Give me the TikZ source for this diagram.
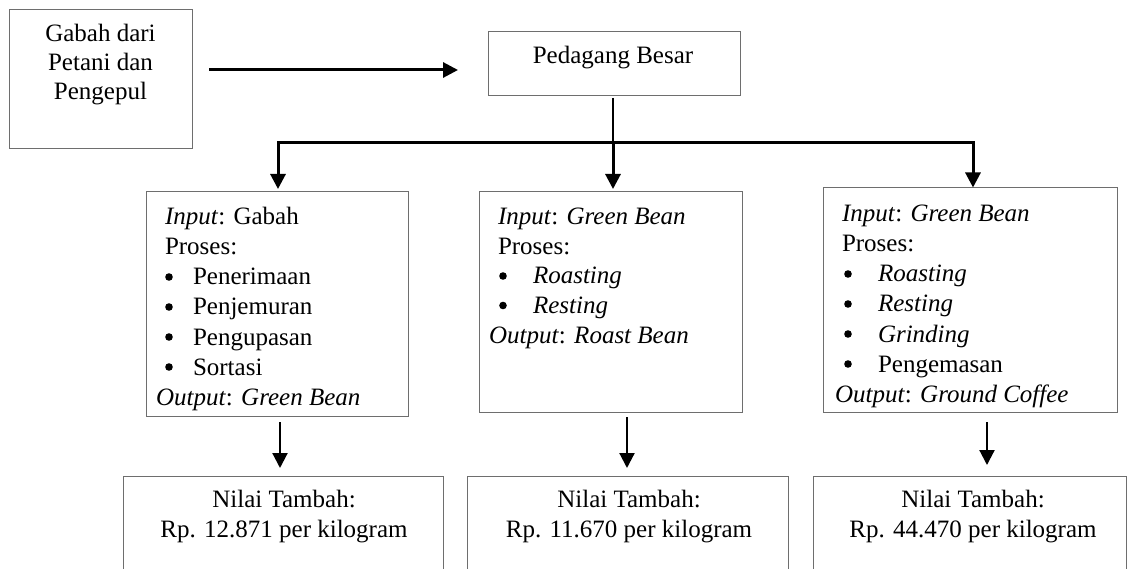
\documentclass[tikz,border=0pt]{standalone}
\usepackage{fontspec}
\setmainfont{Liberation Serif}
\usetikzlibrary{arrows.meta}
\definecolor{boxgray}{RGB}{110,110,110}
\begin{document}
\begin{tikzpicture}[x=1pt,y=-1pt,
  txt/.style={inner sep=0pt, outer sep=0pt, font=\fontsize{25}{30}\selectfont},
  bul/.style={circle, fill=black, inner sep=0pt, outer sep=0pt, minimum size=7.6pt},
  box/.style={draw=boxgray, line width=1pt, inner sep=0pt, outer sep=0pt, anchor=north west},
  frame/.style={inner sep=0pt, outer sep=0pt, anchor=north west},
  openbox/.style={draw=boxgray, line width=1pt},
  thickarrow/.style={line width=3pt, -{Triangle[width=15pt,length=15pt]}},
  thinarrow/.style={line width=2.2pt, -{Triangle[width=15pt,length=15pt]}},
  bus/.style={line width=3pt, {Triangle[width=15pt,length=15pt]}-{Triangle[width=15pt,length=15pt]}},
  stem/.style={line width=1.2pt}
]
\useasboundingbox (0,0) rectangle (1127,569);

% boxes
\node[box, minimum width=183pt, minimum height=139pt] (gabah) at (9,10) {};
\node[box, minimum width=252pt, minimum height=64pt] (pedagang) at (488,32) {};
\node[box, minimum width=262pt, minimum height=224pt] (boxA) at (146,192) {};
\node[box, minimum width=263pt, minimum height=220pt] (boxB) at (479,192) {};
\node[box, minimum width=294pt, minimum height=224pt] (boxC) at (823,188) {};
\node[frame, minimum width=320pt, minimum height=93pt] (botA) at (123,476) {};
\node[frame, minimum width=321pt, minimum height=93pt] (botB) at (467,476) {};
\node[frame, minimum width=313pt, minimum height=93pt] (botC) at (813,476) {};
\draw[openbox] (botA.south west) -- (botA.north west) -- (botA.north east) -- (botA.south east);
\draw[openbox] (botB.south west) -- (botB.north west) -- (botB.north east) -- (botB.south east);
\draw[openbox] (botC.south west) -- (botC.north west) -- (botC.north east) -- (botC.south east);

% top texts
\node[txt, anchor=base] (g1) at (100.5,42) {Gabah dari};
\node[txt, anchor=base] (g2) at (100.5,71) {Petani dan};
\node[txt, anchor=base] (g3) at (100.5,100) {Pengepul};
\node[txt, anchor=base] (pb) at (613,64) {Pedagang Besar};

% box A
\node[txt, anchor=base west] (a1) at (165,225) {\textit{Input}: Gabah};
\node[txt, anchor=base west] (a2) at (165,255) {Proses:};
\node[bul] (ab1) at (169,277) {};
\node[txt, anchor=base west] (ai1) at (193,285) {Penerimaan};
\node[bul] (ab2) at (169,307) {};
\node[txt, anchor=base west] (ai2) at (193,315) {Penjemuran};
\node[bul] (ab3) at (169,337) {};
\node[txt, anchor=base west] (ai3) at (193,345) {Pengupasan};
\node[bul] (ab4) at (169,367) {};
\node[txt, anchor=base west] (ai4) at (193,375) {Sortasi};
\node[txt, anchor=base west] (a3) at (156,405) {\textit{Output}: \textit{Green Bean}};

% box B
\node[txt, anchor=base west] (b1) at (498,225) {\textit{Input}: \textit{Green Bean}};
\node[txt, anchor=base west] (b2) at (498,254.5) {Proses:};
\node[bul] (bb1) at (503,276) {};
\node[txt, anchor=base west] (bi1) at (533,284) {\textit{Roasting}};
\node[bul] (bb2) at (503,305.5) {};
\node[txt, anchor=base west] (bi2) at (533,313.5) {\textit{Resting}};
\node[txt, anchor=base west] (b3) at (489,343) {\textit{Output}: \textit{Roast Bean}};

% box C
\node[txt, anchor=base west] (c1) at (842,222) {\textit{Input}: \textit{Green Bean}};
\node[txt, anchor=base west] (c2) at (842,252) {Proses:};
\node[bul] (cb1) at (848,274) {};
\node[txt, anchor=base west] (ci1) at (878,282) {\textit{Roasting}};
\node[bul] (cb2) at (848,304) {};
\node[txt, anchor=base west] (ci2) at (878,312) {\textit{Resting}};
\node[bul] (cb3) at (848,334) {};
\node[txt, anchor=base west] (ci3) at (878,342) {\textit{Grinding}};
\node[bul] (cb4) at (848,364) {};
\node[txt, anchor=base west] (ci4) at (878,372) {Pengemasan};
\node[txt, anchor=base west] (c3) at (835,402) {\textit{Output}: \textit{Ground Coffee}};

% bottom texts
\node[txt, anchor=base] (na1) at (284,507) {Nilai Tambah:};
\node[txt, anchor=base] (na2) at (284,537) {Rp. 12.871 per kilogram};
\node[txt, anchor=base] (nb1) at (629,507) {Nilai Tambah:};
\node[txt, anchor=base] (nb2) at (629,537) {Rp. 11.670 per kilogram};
\node[txt, anchor=base] (nc1) at (973,507) {Nilai Tambah:};
\node[txt, anchor=base] (nc2) at (973,537) {Rp. 44.470 per kilogram};

% connectors
\coordinate (r1) at (0,70);
\draw[thickarrow, shorten <=17pt, shorten >=30pt] (gabah.east |- r1) -- (pedagang.west |- r1);

\coordinate (busL) at (278,143);
\coordinate (busR) at (973,143);
\coordinate (jB) at (613,143);
\draw[stem] ([yshift=-2pt]jB |- pedagang.south) -- (jB);
\draw[bus, shorten <=3pt, shorten >=0.5pt] (busL |- boxA.north) -- (busL) -- (busR) -- (busR |- boxC.north);
\draw[thickarrow, shorten >=3pt] (jB) -- (jB |- boxB.north);

\coordinate (xA) at (280,0);
\coordinate (xB) at (627,0);
\coordinate (xC) at (987,0);
\draw[thinarrow, shorten <=6pt, shorten >=8pt] (xA |- boxA.south) -- (xA |- botA.north);
\draw[thinarrow, shorten <=5pt, shorten >=8pt] (xB |- boxB.south) -- (xB |- botB.north);
\draw[thinarrow, shorten <=10pt, shorten >=11pt] (xC |- boxC.south) -- (xC |- botC.north);
\end{tikzpicture}
\end{document}
